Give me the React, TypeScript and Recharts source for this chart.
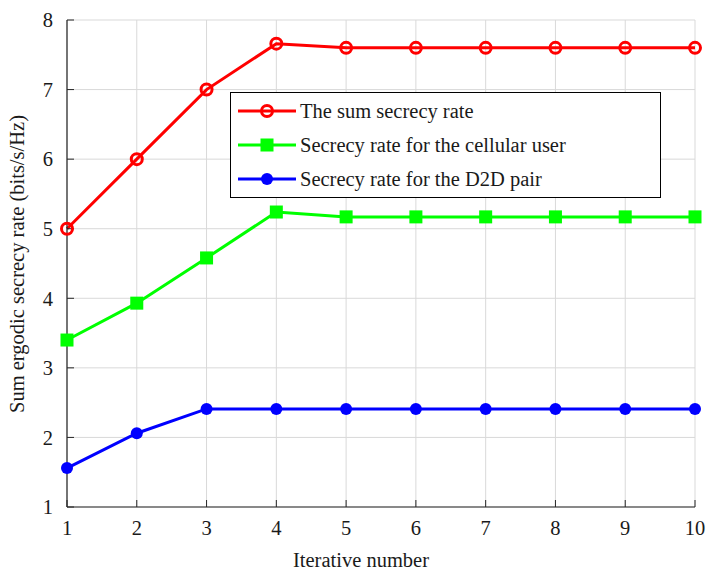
import React from 'react';
import { LineChart, Line, XAxis, YAxis, CartesianGrid, Legend, Label } from 'recharts';

const iterations = [1, 2, 3, 4, 5, 6, 7, 8, 9, 10];
const sumRate = [5.0, 6.0, 7.0, 7.66, 7.6, 7.6, 7.6, 7.6, 7.6, 7.6];
const cellularRate = [3.4, 3.93, 4.58, 5.24, 5.17, 5.17, 5.17, 5.17, 5.17, 5.17];
const d2dRate = [1.56, 2.06, 2.41, 2.41, 2.41, 2.41, 2.41, 2.41, 2.41, 2.41];
const xTicks = [1, 2, 3, 4, 5, 6, 7, 8, 9, 10];
const yTicks = [1, 2, 3, 4, 5, 6, 7, 8];

const seriesNames = [
  'The sum secrecy rate',
  'Secrecy rate for the cellular user',
  'Secrecy rate for the D2D pair',
];

const data = iterations.map((x, i) => ({
  x,
  sum: sumRate[i],
  cell: cellularRate[i],
  d2d: d2dRate[i],
}));

const FONT = '"Liberation Serif", "Times New Roman", serif';
const FS = 20.5;
const TXT = '#1a1a1a';
const AXIS = '#262626';

const RedDot = (p: any) => (
  <circle key={`r${p.index}`} cx={p.cx} cy={p.cy} r={5.5} stroke="#ff0000" strokeWidth={3} fill="none" />
);
const GreenDot = (p: any) => (
  <rect key={`g${p.index}`} x={p.cx - 6.5} y={p.cy - 6.5} width={13} height={13} fill="#00ff00" />
);
const BlueDot = (p: any) => (
  <circle key={`b${p.index}`} cx={p.cx} cy={p.cy} r={6} fill="#0000ff" />
);

const LegendBox = () => {
  const rows = [
    { color: '#ff0000', kind: 'circle' },
    { color: '#00ff00', kind: 'square' },
    { color: '#0000ff', kind: 'dot' },
  ];
  return (
    <div
      style={{
        width: 431,
        height: 106,
        border: '1px solid #000',
        background: '#fff',
        boxSizing: 'border-box',
        position: 'relative',
      }}
    >
      <svg width={431} height={106} style={{ position: 'absolute', left: 0, top: 0 }}>
        {rows.map((r, i) => {
          const y = 18 + i * 34;
          return (
            <g key={i}>
              <line x1={7} x2={65} y1={y} y2={y} stroke={r.color} strokeWidth={3} />
              {r.kind === 'circle' && <circle cx={36} cy={y} r={5.5} stroke={r.color} strokeWidth={3} fill="none" />}
              {r.kind === 'square' && <rect x={29.5} y={y - 6.5} width={13} height={13} fill={r.color} />}
              {r.kind === 'dot' && <circle cx={36} cy={y} r={6} fill={r.color} />}
              <text x={69} y={y + 6.5} fontFamily={FONT} fontSize={FS} fill={TXT}>
                {seriesNames[i]}
              </text>
            </g>
          );
        })}
      </svg>
    </div>
  );
};

export default function App() {
  return (
    <div style={{ position: 'absolute', left: 0, top: 0, width: 720, height: 582, background: '#fff' }}>
      <LineChart width={720} height={582} data={data} margin={{ top: 20, right: 25, left: 0, bottom: 0 }}>
        <CartesianGrid stroke="#d9d9d9" strokeWidth={1} xAxisId="bottom" yAxisId="left" />
        <XAxis
          xAxisId="bottom"
          dataKey="x"
          type="number"
          domain={[1, 10]}
          ticks={xTicks}
          height={75}
          tickSize={-7}
          tickMargin={20}
          stroke={AXIS}
          tick={{ fontFamily: FONT, fontSize: FS, fill: TXT }}
          axisLine={{ stroke: AXIS, strokeWidth: 1.2 }}
          tickLine={{ stroke: AXIS }}
        >
          <Label
            content={() => (
              <text x={361} y={567} textAnchor="middle" fontFamily={FONT} fontSize={FS} fill={TXT}>
                Iterative number
              </text>
            )}
          />
        </XAxis>
        <XAxis
          xAxisId="top"
          orientation="top"
          dataKey="x"
          type="number"
          domain={[1, 10]}
          ticks={xTicks}
          height={0}
          tickSize={-7}
          tick={false}
          stroke={AXIS}
          axisLine={{ stroke: AXIS, strokeWidth: 1.2 }}
          tickLine={{ stroke: AXIS }}
        />
        <YAxis
          yAxisId="left"
          type="number"
          domain={[1, 8]}
          ticks={yTicks}
          width={67}
          tickSize={-7}
          tickMargin={21}
          stroke={AXIS}
          tick={{ fontFamily: FONT, fontSize: FS, fill: TXT }}
          axisLine={{ stroke: AXIS, strokeWidth: 1.2 }}
          tickLine={{ stroke: AXIS }}
        >
          <Label
            content={() => (
              <text
                x={24}
                y={264}
                transform="rotate(-90 24 264)"
                textAnchor="middle"
                fontFamily={FONT}
                fontSize={FS}
                fill={TXT}
              >
                Sum ergodic secrecy rate (bits/s/Hz)
              </text>
            )}
          />
        </YAxis>
        <YAxis
          yAxisId="right"
          orientation="right"
          type="number"
          domain={[1, 8]}
          ticks={yTicks}
          width={0}
          tickSize={-7}
          tick={false}
          stroke={AXIS}
          axisLine={{ stroke: AXIS, strokeWidth: 1.2 }}
          tickLine={{ stroke: AXIS }}
        />
        <Legend
          layout="vertical"
          align="center"
          verticalAlign="middle"
          content={<LegendBox />}
          wrapperStyle={{ position: 'absolute', left: 230, top: 92, width: 431, height: 106 }}
        />
        <Line
          xAxisId="bottom"
          yAxisId="left"
          dataKey="sum"
          name={seriesNames[0]}
          stroke="#ff0000"
          strokeWidth={3}
          dot={RedDot}
          isAnimationActive={false}
        />
        <Line
          xAxisId="bottom"
          yAxisId="left"
          dataKey="cell"
          name={seriesNames[1]}
          stroke="#00ff00"
          strokeWidth={3}
          dot={GreenDot}
          isAnimationActive={false}
        />
        <Line
          xAxisId="bottom"
          yAxisId="left"
          dataKey="d2d"
          name={seriesNames[2]}
          stroke="#0000ff"
          strokeWidth={3}
          dot={BlueDot}
          isAnimationActive={false}
        />
      </LineChart>
    </div>
  );
}
